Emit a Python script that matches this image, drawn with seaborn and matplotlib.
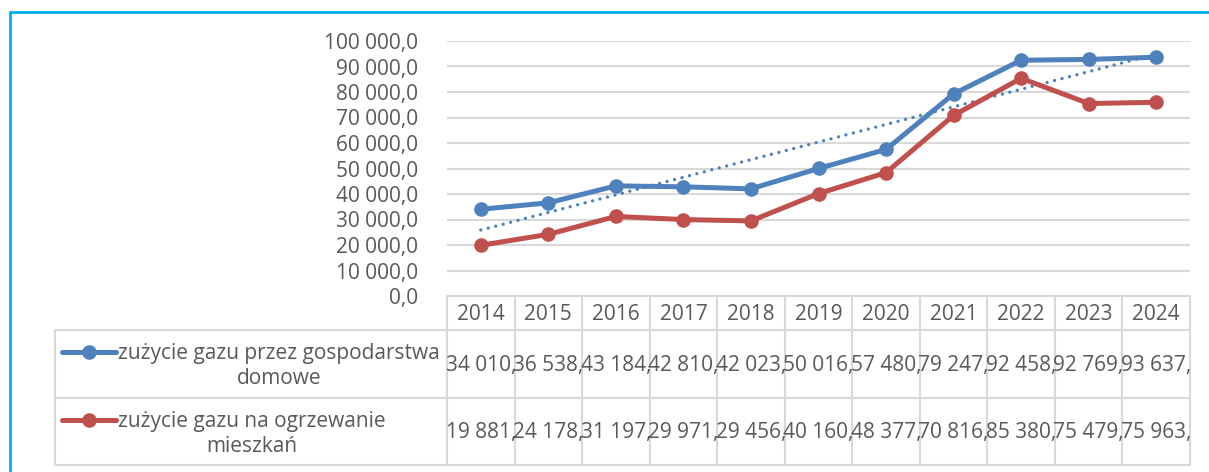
import matplotlib
matplotlib.use("Agg")
import matplotlib.pyplot as plt
from matplotlib.patches import Rectangle
import pandas as pd
import numpy as np
import seaborn as sns

years = [2014, 2015, 2016, 2017, 2018, 2019, 2020, 2021, 2022, 2023, 2024]
households = [34010, 36538, 43184, 42810, 42023, 50016, 57480, 79247, 92458, 92769, 93637]
heating = [19881, 24178, 31197, 29971, 29456, 40160, 48377, 70816, 85380, 75479, 75963]
series_names = ["zużycie gazu przez gospodarstwa\ndomowe", "zużycie gazu na ogrzewanie\nmieszkań"]
y_ticks = list(range(0, 100001, 10000))

BLUE = "#4F81BD"
RED = "#C0504D"
TXT = "#595959"
GRID = "#D9D9D9"
FRAME = "#00B0F0"
FS = 15


def pl_fmt(v):
    # 34010 -> "34 010,0"
    return f"{v:,.1f}".replace(",", " ").replace(".", ",")


sns.set_style("white")
plt.rcParams["font.family"] = ["Open Sans", "DejaVu Sans"]

fig = plt.figure(figsize=(12.09, 4.72), dpi=100)

# background axes in pixel units for frame + data table
bg = fig.add_axes([0, 0, 1, 1])
bg.set_xlim(0, 1209)
bg.set_ylim(472, 0)
bg.axis("off")

# chart area
x0, x1, ytop, ybot = 447, 1190, 41, 296
ax = fig.add_axes([x0 / 1209, (472 - ybot) / 472, (x1 - x0) / 1209, (ybot - ytop) / 472])

df = pd.DataFrame({
    "idx": list(range(len(years))) * 2,
    "value": households + heating,
    "series": [series_names[0]] * len(years) + [series_names[1]] * len(years),
})

sns.lineplot(data=df, x="idx", y="value", hue="series", style="series",
             palette=[BLUE, RED], markers=["o", "o"], dashes=False,
             linewidth=3.6, markersize=10.5, markeredgewidth=0,
             legend=False, ax=ax, zorder=3)
for ln in ax.lines:
    ln.set_solid_joinstyle("round")

# linear trend of households series
idx = np.arange(len(years))
k, b = np.polyfit(idx, households, 1)
ax.plot(idx, k * idx + b, color=BLUE, linewidth=2.4,
        linestyle=(0, (0.01, 2.3)), dash_capstyle="round", zorder=2)

ax.set_xlim(-0.5, len(years) - 0.5)
ax.set_ylim(0, 100000)
ax.set_yticks(y_ticks)
ax.set_yticklabels([pl_fmt(v) for v in y_ticks], color=TXT, fontsize=FS)
ax.tick_params(axis="y", length=0, pad=21)
ax.set_xticks([])
ax.set_xlabel("")
ax.set_ylabel("")
ax.grid(axis="y", color=GRID, linewidth=1.5)
ax.set_axisbelow(True)
for s in ax.spines.values():
    s.set_visible(False)
ax.patch.set_alpha(0)

# outer frame (top and left edges visible)
bg.plot([10, 1209], [12, 12], color=FRAME, linewidth=2)
bg.plot([10, 10], [12, 472], color=FRAME, linewidth=2)

# data table
col_w = (x1 - x0) / len(years)
rows = [296, 330, 398, 465]
lc = dict(color=GRID, linewidth=1.5)
bg.plot([x0, x1], [rows[0], rows[0]], **lc)
for r in rows[1:]:
    bg.plot([55, x1], [r, r], **lc)
bg.plot([55, 55], [rows[1], rows[3]], **lc)
for i in range(len(years) + 1):
    xx = x0 + i * col_w
    bg.plot([xx, xx], [rows[0], rows[3]], **lc)

for i, yr in enumerate(years):
    cx = x0 + (i + 0.5) * col_w
    bg.text(cx, (rows[0] + rows[1]) / 2 + 1, str(yr), ha="center", va="center",
            fontsize=FS, color=TXT)
    for r, vals in enumerate([households, heating]):
        # values are wider than the cell: clipped like in the spreadsheet table
        left = x0 + i * col_w
        clip = Rectangle((left - 3, rows[r + 1]), col_w + 3, rows[r + 2] - rows[r + 1],
                         transform=bg.transData)
        t = bg.text(left - 1.5, (rows[r + 1] + rows[r + 2]) / 2 + 1, pl_fmt(vals[i]),
                    ha="left", va="center", fontsize=FS, color=TXT, clip_on=True)
        t.set_clip_path(clip)

# legend keys in the table
for r, (name, col) in enumerate(zip(series_names, [BLUE, RED])):
    ky = 352 if r == 0 else 420
    bg.plot([62, 116], [ky, ky], color=col, linewidth=3.6, solid_capstyle="round")
    bg.plot([89], [ky], "o", color=col, markersize=10.5, markeredgewidth=0)
    bg.text(118, ky + 14, name, ha="left", va="center", multialignment="center",
            fontsize=FS, color=TXT, linespacing=1.25)

fig.savefig("out.png", dpi=100)
